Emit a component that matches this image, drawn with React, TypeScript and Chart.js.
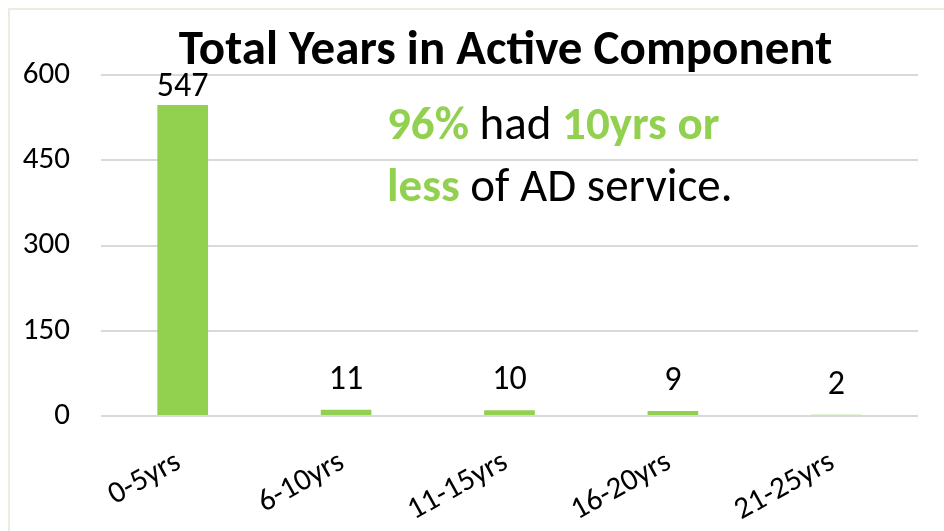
import React, { useEffect, useRef } from "react";
import { Chart, registerables } from "chart.js";

Chart.register(...registerables);

const categories = ["0-5yrs", "6-10yrs", "11-15yrs", "16-20yrs", "21-25yrs"];
const values = [547, 11, 10, 9, 2];
const yTicks = [0, 150, 300, 450, 600];
const titleText = "Total Years in Active Component";
const noteLine1 = [
  { text: "96%", green: true },
  { text: " had ", green: false },
  { text: "10yrs or", green: true },
];
const noteLine2 = [
  { text: "less", green: true },
  { text: " of AD service.", green: false },
];

const GREEN = "#92D050";
const FONT = "Carlito, Lato, 'Open Sans', sans-serif";

export default function App() {
  const ref = useRef<HTMLCanvasElement>(null);
  useEffect(() => {
    const canvas = ref.current!;
    const overlay = {
      id: "overlay",
      afterDatasetsDraw(chart: any) {
        const ctx = chart.ctx;
        const area = chart.chartArea;
        ctx.save();
        // data labels
        const meta = chart.getDatasetMeta(0);
        ctx.font = `34px ${FONT}`;
        ctx.fillStyle = "#000";
        ctx.textAlign = "center";
        ctx.textBaseline = "alphabetic";
        meta.data.forEach((bar: any, i: number) => {
          let y = bar.y - 21;
          const h = 24;
          if (y - h < area.top - 3) y = area.top - 3 + h;
          ctx.fillText(String(values[i]), bar.x, y);
        });
        // title
        ctx.font = `bold 49px ${FONT}`;
        ctx.textAlign = "center";
        ctx.fillText(titleText, (area.left + area.right) / 2 - 4, 54);
        // note
        const drawLine = (segs: any[], x: number, y: number) => {
          ctx.textAlign = "left";
          segs.forEach((s) => {
            ctx.font = `${s.green ? "bold " : ""}47px ${FONT}`;
            ctx.fillStyle = s.green ? GREEN : "#000";
            ctx.fillText(s.text, x, y);
            x += ctx.measureText(s.text).width;
          });
        };
        drawLine(noteLine1, 377, 129);
        drawLine(noteLine2, 377, 191);
        ctx.restore();
      },
    };
    const chart = new Chart(canvas, {
      type: "bar",
      data: {
        labels: categories,
        datasets: [
          {
            data: values,
            backgroundColor: GREEN,
            barPercentage: 0.31,
            categoryPercentage: 1,
          },
        ],
      },
      options: {
        animation: false,
        responsive: true,
        maintainAspectRatio: false,
        layout: { padding: { top: 65, right: 26, left: 0, bottom: 0 } },
        plugins: { legend: { display: false }, title: { display: false }, tooltip: { enabled: false } },
        scales: {
          x: {
            grid: { display: false },
            border: { display: false },
            ticks: {
              color: "#000",
              font: { family: FONT, size: 31 },
              minRotation: 29,
              maxRotation: 29,
              padding: 20,
              labelOffset: -4,
            },
            afterFit(scale: any) {
              scale.height = 115;
            },
          },
          y: {
            min: 0,
            max: 600,
            afterBuildTicks(scale: any) {
              scale.ticks = yTicks.map((v) => ({ value: v }));
            },
            grid: { color: "#D9D9D9", lineWidth: 2, drawTicks: false, tickLength: 0 },
            border: { display: false },
            ticks: {
              color: "#000",
              font: { family: FONT, size: 31 },
              padding: 31,
            },
            afterFit(scale: any) {
              scale.width = 91;
            },
          },
        },
      },
      plugins: [overlay],
    });
    return () => chart.destroy();
  }, []);
  return (
    <div
      style={{
        position: "fixed",
        left: 8,
        top: 8,
        width: 936,
        height: 523,
        borderLeft: "2px solid #EFEBE0",
        borderTop: "2px solid #EFEBE0",
        background: "#fff",
        boxSizing: "border-box",
        overflow: "hidden",
      }}
    >
      <div style={{ position: "relative", width: 934, height: 521 }}>
        <canvas ref={ref} />
      </div>
    </div>
  );
}
